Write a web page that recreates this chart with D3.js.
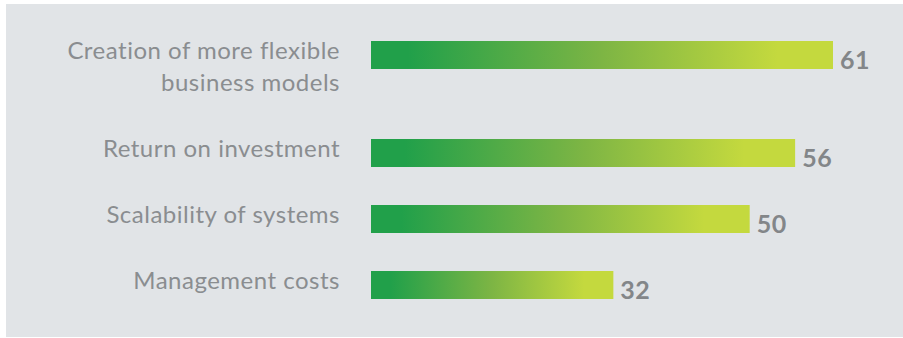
<!DOCTYPE html>
<html>
<head>
<meta charset="utf-8">
<script src="https://cdn.jsdelivr.net/npm/d3@7"></script>
<style>
  html, body { margin: 0; padding: 0; background: #ffffff; }
  svg { display: block; }
</style>
</head>
<body>
<svg id="chart" width="903" height="338"></svg>
<script>
// Survey results: share of respondents per benefit
const categories = [
  ["Creation of more flexible", "business models"],
  ["Return on investment"],
  ["Scalability of systems"],
  ["Management costs"]
];
const values = [61, 56, 50, 32];

const svg = d3.select("#chart");
const W = 903, H = 338;

// grey panel
svg.append("rect")
  .attr("x", 6).attr("y", 4)
  .attr("width", W - 6).attr("height", H - 5)
  .attr("fill", "#e1e4e7");

// green-to-lime gradient used by every bar
const defs = svg.append("defs");
const grad = defs.append("linearGradient")
  .attr("id", "barGrad")
  .attr("x1", "0%").attr("x2", "100%").attr("y1", "0%").attr("y2", "0%");
grad.append("stop").attr("offset", "0.08").attr("stop-color", "#21a04a");
grad.append("stop").attr("offset", "0.5").attr("stop-color", "#7db544");
grad.append("stop").attr("offset", "0.88").attr("stop-color", "#c4d93e");

const x0 = 371;
const x = d3.scaleLinear().domain([0, 61]).range([x0, 833]);

const barH = 28;
const rowStep = 66;      // spacing of single-line rows
const lineH = 32;        // extra room for each additional label line
const firstTop = 41;

// row tops: each row advances by the base step plus any extra label lines
const tops = [];
let acc = firstTop;
categories.forEach((lines, i) => {
  tops.push(acc);
  acc += rowStep + (lines.length - 1) * lineH;
});

const rows = svg.append("g").selectAll("g")
  .data(values.map((v, i) => ({ v, lines: categories[i], top: tops[i] })))
  .join("g");

rows.append("rect")
  .attr("x", x(0))
  .attr("y", d => d.top)
  .attr("width", d => x(d.v) - x(0))
  .attr("height", barH)
  .attr("fill", "url(#barGrad)");

rows.append("text")
  .attr("x", d => x(d.v) + 7)
  .attr("y", d => d.top + barH)
  .attr("font-family", "Lato, 'Open Sans', sans-serif")
  .attr("font-weight", "bold")
  .attr("font-size", 25)
  .attr("letter-spacing", 0.5)
  .attr("fill", "#838689")
  .text(d => d.v);

const labels = rows.append("text")
  .attr("text-anchor", "end")
  .attr("font-family", "Lato, 'Open Sans', sans-serif")
  .attr("font-size", 24)
  .attr("letter-spacing", 0.5)
  .attr("fill", "#8a8d90");

labels.selectAll("tspan")
  .data(d => d.lines.map((t, j) => ({ t, j, top: d.top })))
  .join("tspan")
  .attr("x", 340)
  .attr("y", d => d.top + 18 + d.j * lineH)
  .text(d => d.t);
</script>
</body>
</html>
